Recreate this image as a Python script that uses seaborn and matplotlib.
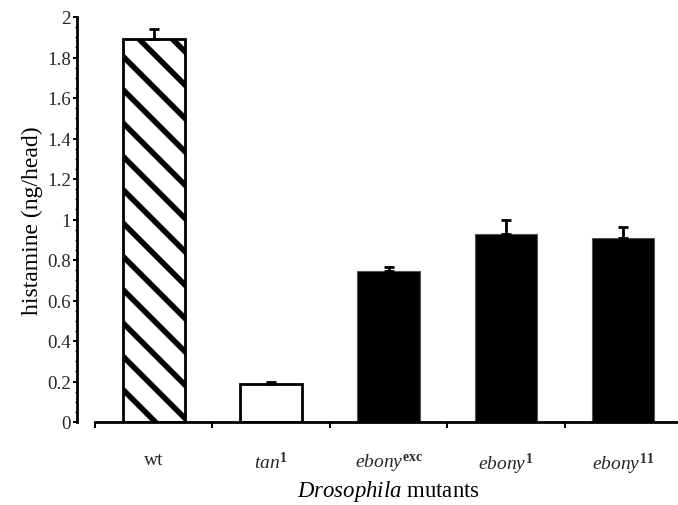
import numpy as np
import matplotlib
matplotlib.use("Agg")
import matplotlib.pyplot as plt
import seaborn as sns
from matplotlib.ticker import MultipleLocator

categories = ["wt", "tan1", "ebony_exc", "ebony1", "ebony11"]
tick_labels = ["wt", r"$\mathit{tan}^{\mathbf{1}}$", r"$\mathit{ebony}^{\mathbf{exc}}$",
               r"$\mathit{ebony}^{\mathbf{1}}$", r"$\mathit{ebony}^{\mathbf{11}}$"]
values = [1.89, 0.188, 0.746, 0.93, 0.91]
errors = [0.05, 0.012, 0.018, 0.07, 0.055]
fills = ["white", "white", "black", "black", "black"]
hatches = ["\\\\", "", "", "", ""]
ytick_values = [0, 0.2, 0.4, 0.6, 0.8, 1.0, 1.2, 1.4, 1.6, 1.8, 2.0]
ytick_labels = ["0", "0.2", "0.4", "0.6", "0.8", "1", "1.2", "1.4", "1.6", "1.8", "2"]

sns.set_theme(style="ticks")
plt.rcParams["font.family"] = ["Liberation Serif", "DejaVu Serif"]
plt.rcParams["mathtext.fontset"] = "custom"
plt.rcParams["mathtext.rm"] = "Liberation Serif"
plt.rcParams["mathtext.it"] = "Liberation Serif:italic"
plt.rcParams["mathtext.bf"] = "Liberation Serif:bold"
plt.rcParams["hatch.linewidth"] = 2.0
plt.rcParams["hatch.color"] = "black"

DPI = 200
fig = plt.figure(figsize=(678 / DPI, 506 / DPI), dpi=DPI)
ax = fig.add_axes([95 / 678, (506 - 423) / 506, 587 / 678, 405 / 506])

sns.barplot(x=categories, y=values, ax=ax, width=0.53, color="black",
            edgecolor="black", linewidth=0.8, errorbar=None)
for patch, fc, h in zip(ax.patches, fills, hatches):
    patch.set_facecolor(fc)
    patch.set_hatch(h)
    patch.set_edgecolor("black")
    if fc == "black":
        patch.set_edgecolor("#555555")
        patch.set_linewidth(0.4)
    else:
        patch.set_linewidth(1.0)

xs = np.arange(len(categories))
ax.errorbar(xs, values, yerr=[np.zeros(len(values)), errors], fmt="none",
            ecolor="black", elinewidth=1.0, capsize=1.8, capthick=1.0, zorder=1)

ax.set_xlim(-0.5, 4.5)
ax.set_ylim(0, 2)
ax.set_yticks(ytick_values)
ax.set_yticklabels(ytick_labels)
ax.yaxis.set_minor_locator(MultipleLocator(0.05))

ax.set_xticks(xs)
ax.set_xticklabels(tick_labels)
ax.set_xticks(np.arange(-0.5, 4.6, 1.0), minor=True)
ax.tick_params(axis="x", which="major", length=0, pad=10.5, labelsize=7)
ax.tick_params(axis="x", which="minor", length=2.0, width=0.7, direction="out", color="black")
ax.tick_params(axis="y", which="major", length=1.6, width=0.7, pad=0.6, labelsize=6.8, color="black")
ax.tick_params(axis="y", which="minor", length=0.9, width=0.5, color="black")

for s in ["top", "right"]:
    ax.spines[s].set_visible(False)
ax.spines["left"].set_position(("outward", 6.5))
ax.spines["left"].set_linewidth(1.0)
ax.spines["bottom"].set_linewidth(1.0)
ax.spines["left"].set_color("black")
ax.spines["bottom"].set_color("black")

ax.set_ylabel("histamine (ng/head)", fontsize=8.5, labelpad=1.5, color="black")
ax.set_xlabel(r"$\mathit{Drosophila}$ mutants", fontsize=8.2, labelpad=0.6, color="black")

fig.savefig("out.png", dpi=DPI)
